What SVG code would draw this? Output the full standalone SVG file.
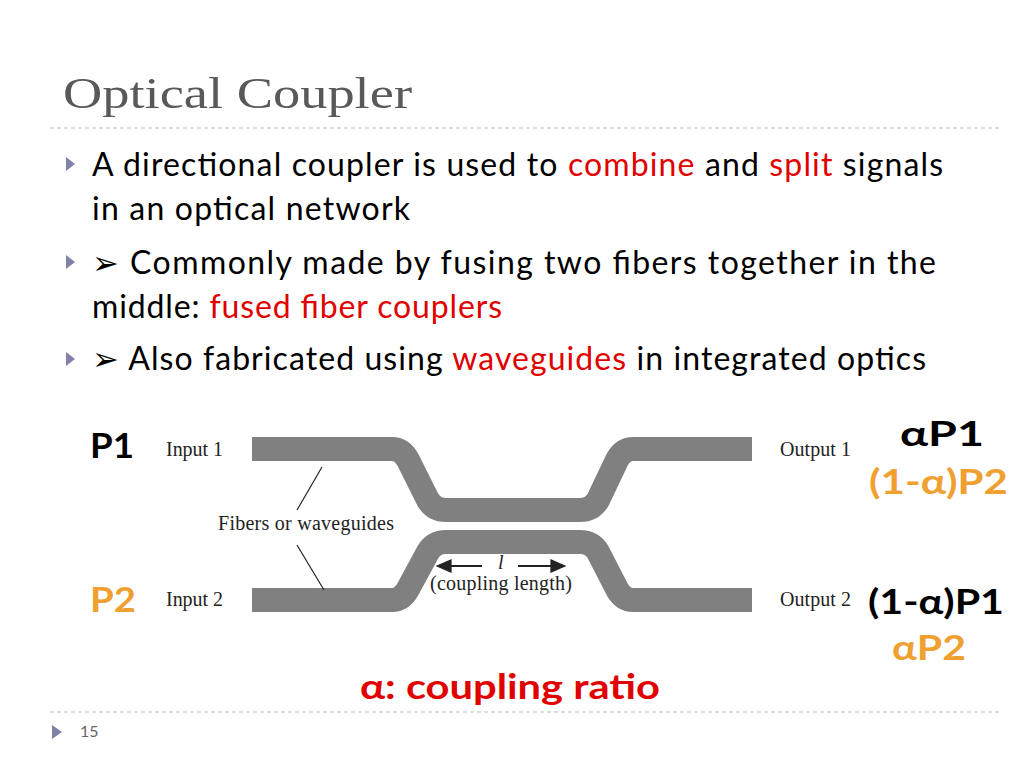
<svg xmlns="http://www.w3.org/2000/svg" width="1024" height="768" viewBox="0 0 1024 768">
<style>
.b{font-family:Lato,"Open Sans",sans-serif;font-size:32px;fill:#000}
.r{fill:#e00000}
.o{fill:#f0a030}
.lab{font-family:"Liberation Serif",serif;font-size:20px;fill:#222}
.big{font-family:Lato,"Open Sans",sans-serif;font-size:34px;font-weight:bold}
.wg{fill:none;stroke:#808080;stroke-width:24;stroke-linejoin:miter}
.tri{fill:#8080a8}
</style>
<rect width="1024" height="768" fill="#fff"/>
<text x="63" y="108" font-family="Liberation Serif,serif" font-size="44" fill="#595959" textLength="349" lengthAdjust="spacingAndGlyphs">Optical Coupler</text>
<line x1="50" y1="128" x2="1000" y2="128" stroke="#bbb" stroke-dasharray="4,3"/>
<g id="bullets">
<path class="tri" d="M66,157 l9,7 l-9,7z"/>
<path class="tri" d="M66,255 l9,7 l-9,7z"/>
<path class="tri" d="M66,352 l9,7 l-9,7z"/>
<text class="b" x="92" y="176" textLength="851">A directional coupler is used to <tspan class="r">combine</tspan> and <tspan class="r">split</tspan> signals</text>
<text class="b" x="92" y="220" textLength="318">in an optical network</text>
<text class="b" x="92" y="274" textLength="844">➢  Commonly made by fusing two fibers together in the</text>
<text class="b" x="92" y="318" textLength="410">middle: <tspan class="r">fused fiber couplers</tspan></text>
<text class="b" x="92" y="370" textLength="834">➢  Also fabricated using <tspan class="r">waveguides</tspan> in integrated optics</text>
</g>
<g id="coupler">
<path class="wg" d="M252,449 L392,449 Q402,449 408,460 L428,500 Q434,510 446,510 L580,510 Q592,510 598,500 L617,460 Q623,449 633,449 L752,449"/>
<path class="wg" d="M252,600 L392,600 Q402,600 408,589 L428,552 Q434,542 446,542 L580,542 Q592,542 598,552 L617,589 Q623,600 633,600 L752,600"/>
<text class="lab" x="166" y="456" textLength="57">Input 1</text>
<text class="lab" x="166" y="606" textLength="57">Input 2</text>
<text class="lab" x="780" y="456" textLength="71">Output 1</text>
<text class="lab" x="780" y="606" textLength="71">Output 2</text>
<text class="lab" x="218" y="530" textLength="176">Fibers or waveguides</text>
<text class="lab" x="430" y="590" textLength="142">(coupling length)</text>
<text class="lab" x="498" y="569" font-style="italic">l</text>
</g>
<g id="connectors" stroke="#222" stroke-width="1.2">
<line x1="322" y1="467" x2="297" y2="510"/>
<line x1="297" y1="545" x2="324" y2="590"/>
<line x1="450" y1="566" x2="482" y2="566" stroke-width="2"/>
<path d="M437,566 l14,-6 v12z" fill="#222"/>
<line x1="518" y1="566" x2="552" y2="566" stroke-width="2"/>
<path d="M565,566 l-14,-6 v12z" fill="#222"/>
</g>
<g id="powers">
<text class="big" x="90" y="458" textLength="44" lengthAdjust="spacingAndGlyphs">P1</text>
<text class="big o" x="90" y="612" textLength="46" lengthAdjust="spacingAndGlyphs">P2</text>
<text class="big" x="900" y="446" textLength="84" lengthAdjust="spacingAndGlyphs">αP1</text>
<text class="big o" x="869" y="494" textLength="139" lengthAdjust="spacingAndGlyphs">(1-α)P2</text>
<text class="big" x="868" y="614" textLength="136" lengthAdjust="spacingAndGlyphs">(1-α)P1</text>
<text class="big o" x="892" y="660" textLength="74" lengthAdjust="spacingAndGlyphs">αP2</text>
<text class="big r" x="360" y="699" textLength="300" lengthAdjust="spacingAndGlyphs">α: coupling ratio</text>
</g>
<line x1="50" y1="712" x2="1000" y2="712" stroke="#bbb" stroke-dasharray="4,3"/>
<path class="tri" d="M52,725 l10,7 l-10,7z"/>
<text x="80" y="737" font-family="Lato,sans-serif" font-size="16" fill="#666">15</text>
</svg>
